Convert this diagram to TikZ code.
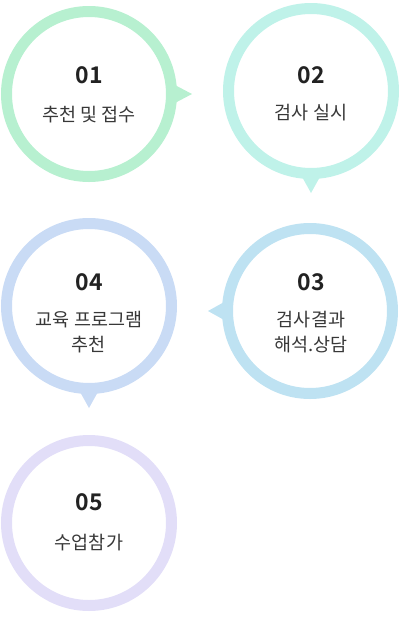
\documentclass[tikz,border=0pt]{standalone}
\usepackage{fontspec}
\setmainfont{Noto Sans}
\newfontfamily\kr{Noto Sans CJK KR}
\newfontfamily\krbold{Noto Sans CJK KR Bold}
\definecolor{ringA}{HTML}{B7F0D0}
\definecolor{ringB}{HTML}{BFF2E9}
\definecolor{ringC}{HTML}{BEE2F2}
\definecolor{ringD}{HTML}{C9DBF5}
\definecolor{ringE}{HTML}{E2DEF8}
\definecolor{ink}{HTML}{222222}

\begin{document}
\begin{tikzpicture}[x=1pt,y=-1pt,
	ring/.style={circle, line width=11pt, minimum size=165pt, inner sep=0pt},
	num/.style={text=ink, font=\krbold\fontsize{23}{24}\selectfont},
	lbl/.style={text=ink!90, align=center, font=\kr\fontsize{18.5}{25}\selectfont}]
\useasboundingbox (0,0) rectangle (401,619);
% circles
\node[ring, draw=ringA] (s1) at (89,94) {};
\node[ring, draw=ringB] (s2) at (311,91) {};
\node[ring, draw=ringC] (s3) at (310,311) {};
\node[ring, draw=ringD] (s4) at (89,306) {};
\node[ring, draw=ringE] (s5) at (89,523) {};
% pointers
\fill[ringA] ([shift={(-4,-10)}]s1.east) -- ([shift={(15,0)}]s1.east) -- ([shift={(-4,10)}]s1.east) -- cycle;
\fill[ringB] ([shift={(-10,-4)}]s2.south) -- ([shift={(0,14)}]s2.south) -- ([shift={(10,-4)}]s2.south) -- cycle;
\fill[ringC] ([shift={(4,-10)}]s3.west) -- ([shift={(-14,0)}]s3.west) -- ([shift={(4,10)}]s3.west) -- cycle;
\fill[ringD] ([shift={(-10,-4)}]s4.south) -- ([shift={(0,14)}]s4.south) -- ([shift={(10,-4)}]s4.south) -- cycle;
% texts
\node[num] (n1) at (89,75) {01};
\node[lbl] (t1) at (89,115) {추천 및 접수};
\node[num] (n2) at (311,75) {02};
\node[lbl] (t2) at (311,113) {검사 실시};
\node[num] (n3) at (311,282) {03};
\node[lbl] (t3) at (311,332) {검사결과\\해석.상담};
\node[num] (n4) at (89,282) {04};
\node[lbl] (t4) at (89,332) {교육 프로그램\\추천};
\node[num] (n5) at (89,502) {05};
\node[lbl] (t5) at (89,543) {수업참가};
\end{tikzpicture}
\end{document}
